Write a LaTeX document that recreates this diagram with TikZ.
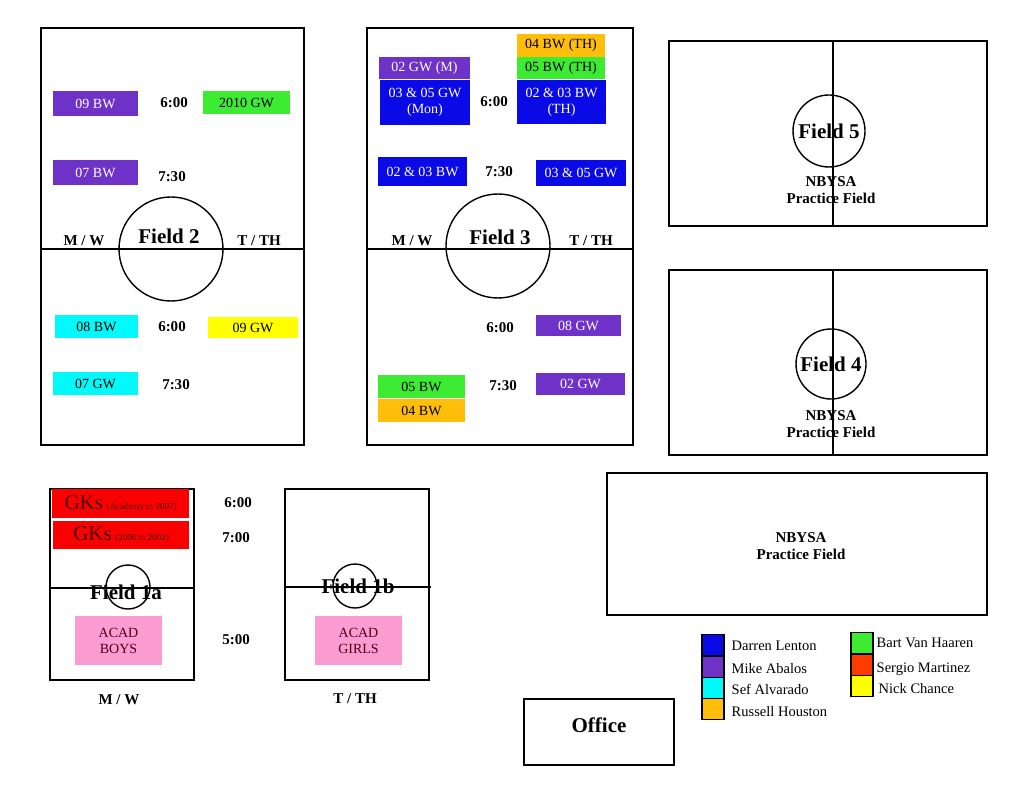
\documentclass[tikz,border=0pt]{standalone}
\usepackage{fontspec}
\setmainfont{Liberation Serif}
\begin{document}
\definecolor{cBlue}{RGB}{10,10,230}
\definecolor{cPurple}{RGB}{110,50,200}
\definecolor{cCyan}{RGB}{0,250,250}
\definecolor{cGreen}{RGB}{60,235,50}
\definecolor{cYellow}{RGB}{255,255,0}
\definecolor{cOrange}{RGB}{255,190,10}
\definecolor{cRed}{RGB}{250,0,0}
\definecolor{cSergio}{RGB}{255,60,0}
\definecolor{cPink}{RGB}{250,155,210}
\newcommand{\bx}[7]{\node[box,#6,minimum width={(#4-#2)*1pt},minimum height={(#5-#3)*1pt}] (#1) at ({(#2+#4)/2},{(#3+#5)/2}) {#7};}
\begin{tikzpicture}[x=1pt,y=-1pt,line width=1.4pt,
  box/.style={inner sep=0pt,align=center,font=\fontsize{14}{16}\selectfont},
  bl/.style={fill=cBlue,text=white}, pu/.style={fill=cPurple,text=white},
  cy/.style={fill=cCyan}, gr/.style={fill=cGreen}, ye/.style={fill=cYellow},
  or/.style={fill=cOrange}, rd/.style={fill=cRed,text=black!70!red},
  pk/.style={fill=cPink,text=black!60!purple},
  field/.style={draw},
  tm/.style={font=\fontsize{15}{16}\selectfont\bfseries,inner sep=0pt},
  ttl/.style={font=\fontsize{21}{22}\selectfont\bfseries,inner sep=0pt},
  nb/.style={font=\fontsize{15}{17}\selectfont\bfseries,align=center,inner sep=0pt},
  lg/.style={draw,minimum width=22pt,minimum height=21pt,inner sep=0pt},
  lt/.style={anchor=west,inner sep=0pt,font=\fontsize{14.5}{15}\selectfont}]
\useasboundingbox (0,0) rectangle (1024,791);
% Field 2
\draw[field] (41,28) rectangle (304,445);
\draw (41,249) -- (304,249);
\draw (171,249) circle (52);
\node[tm] (f2mw) at (84,241) {M / W};
\node[ttl] (f2) at (169,236) {Field 2};
\node[tm] (f2tt) at (259,241) {T / TH};
\bx{a1}{53}{91}{138}{116}{pu}{09 BW}
\node[tm] (a2) at (174,103) {6:00};
\bx{a3}{203}{91}{290}{114}{gr}{2010 GW}
\bx{a4}{53}{160}{138}{185}{pu}{07 BW}
\node[tm] (a5) at (172,177) {7:30};
\bx{a6}{55}{315}{138}{338}{cy}{08 BW}
\node[tm] (a7) at (172,327) {6:00};
\bx{a8}{208}{317}{298}{338}{ye}{09 GW}
\bx{a9}{53}{372}{138}{395}{cy}{07 GW}
\node[tm] (a10) at (176,385) {7:30};
% Field 3
\draw[field] (367,28) rectangle (633,445);
\draw (367,249) -- (633,249);
\draw (498,246) circle (52);
\node[tm] (f3mw) at (412,241) {M / W};
\node[ttl] (f3) at (500,237) {Field 3};
\node[tm] (f3tt) at (591,241) {T / TH};
\bx{b1}{379}{57}{470}{79}{pu}{02 GW (M)}
\bx{b2}{380}{80}{470}{125}{bl}{03 \& 05 GW\\(Mon)}
\node[tm] (b3) at (494,102) {6:00};
\bx{b4}{517}{34}{605}{57}{or}{04 BW (TH)}
\bx{b5}{517}{57}{605}{79}{gr}{05 BW (TH)}
\bx{b6}{517}{80}{606}{124}{bl}{02 \& 03 BW\\(TH)}
\bx{b7}{378}{157}{467}{186}{bl}{02 \& 03 BW}
\node[tm] (b8) at (499,172) {7:30};
\bx{b9}{536}{160}{626}{186}{bl}{03 \& 05 GW}
\node[tm] (b10) at (500,328) {6:00};
\bx{b11}{536}{315}{621}{336}{pu}{08 GW}
\bx{b12}{378}{375}{465}{398}{gr}{05 BW}
\bx{b13}{378}{399}{465}{422}{or}{04 BW}
\node[tm] (b14) at (503,386) {7:30};
\bx{b15}{536}{373}{625}{395}{pu}{02 GW}
% Field 5
\draw[field] (669,41) rectangle (987,226);
\draw (833,41) -- (833,226);
\draw (829,131) circle (36);
\node[ttl] (f5) at (829,131) {Field 5};
\node[nb] (f5n) at (831,190) {NBYSA\\Practice Field};
% Field 4
\draw[field] (669,270) rectangle (987,455);
\draw (833,270) -- (833,455);
\draw (831,364) circle (35);
\node[ttl] (f4) at (831,364) {Field 4};
\node[nb] (f4n) at (831,424) {NBYSA\\Practice Field};
% big practice
\draw[field] (607,473) rectangle (987,615);
\node[nb] (pf) at (801,546) {NBYSA\\Practice Field};
% Field 1a
\draw[field] (50,489) rectangle (194,680);
\bx{c1}{52}{489}{189}{518}{rd}{{\fontsize{21}{22}\selectfont GKs} {\fontsize{9}{10}\selectfont (Academy to 2007)}}
\bx{c2}{53}{521}{189}{549}{rd}{{\fontsize{21}{22}\selectfont GKs} {\fontsize{9}{10}\selectfont (2006 to 2002)}}
\draw (50,588) -- (194,588);
\draw (128,587) circle (22);
\node[ttl] (f1a) at (126,592) {Field 1a};
\bx{c3}{75}{616}{162}{665}{pk}{ACAD\\BOYS}
\node[tm] (c4) at (238,503) {6:00};
\node[tm] (c5) at (236,538) {7:00};
\node[tm] (c6) at (236,640) {5:00};
\node[tm] (c7) at (119,700) {M / W};
% Field 1b
\draw[field] (285,489) rectangle (429,680);
\draw (285,587) -- (431,587);
\draw (355,586) circle (22);
\node[ttl] (f1b) at (358,586) {Field 1b};
\bx{d1}{315}{616}{402}{665}{pk}{ACAD\\GIRLS}
\node[tm] (d2) at (355,699) {T / TH};
% Office
\draw[field] (524,699) rectangle (674,765);
\node[ttl] (off) at (599,725) {Office};
% Legend
\node[lg,fill=cBlue] (l1) at (713,645) {};
\node[lg,fill=cPurple] (l2) at (713,667) {};
\node[lg,fill=cCyan] (l3) at (713,688) {};
\node[lg,fill=cOrange] (l4) at (713,709) {};
\node[lt] (t1) at (731,646) {Darren Lenton};
\node[lt] (t2) at (731,669) {Mike Abalos};
\node[lt] (t3) at (731,689) {Sef Alvarado};
\node[lt] (t4) at (731,712) {Russell Houston};
\node[lg,fill=cGreen] (l5) at (862,643) {};
\node[lg,fill=cSergio] (l6) at (862,665) {};
\node[lg,fill=cYellow] (l7) at (862,686) {};
\node[lt] (t5) at (876,643) {Bart Van Haaren};
\node[lt] (t6) at (876,669) {Sergio Martinez};
\node[lt] (t7) at (878,689) {Nick Chance};
\end{tikzpicture}
\end{document}
